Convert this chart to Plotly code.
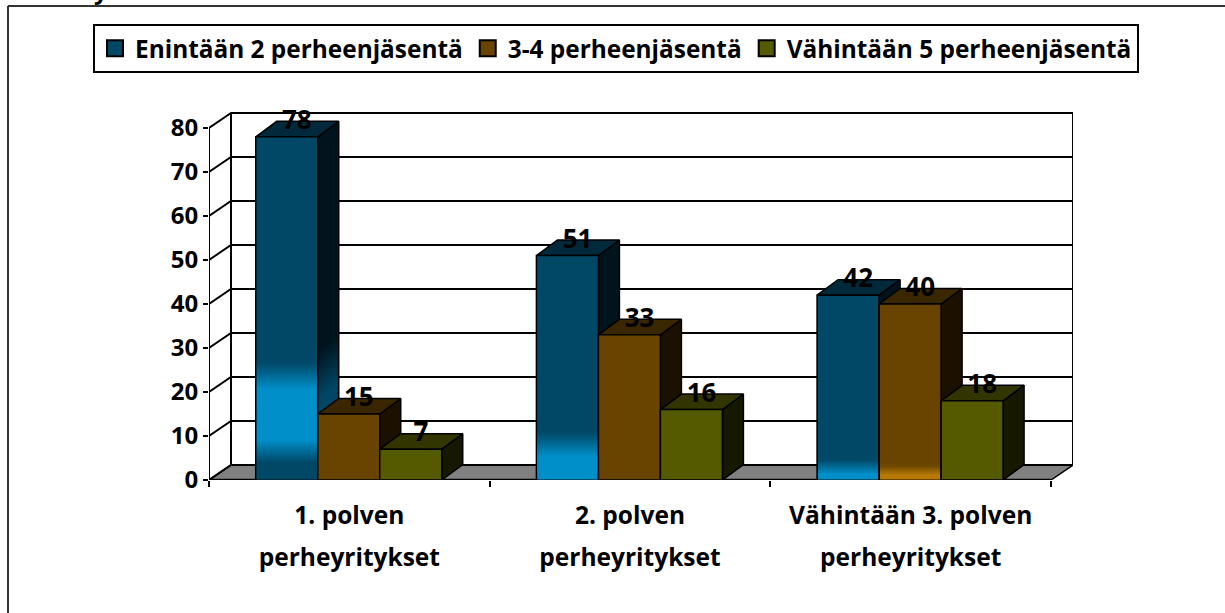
import plotly.graph_objects as go

categories = ["1. polven<br>perheyritykset", "2. polven<br>perheyritykset", "Vähintään 3. polven<br>perheyritykset"]
series_names = ["Enintään 2 perheenjäsentä", "3-4 perheenjäsentä", "Vähintään 5 perheenjäsentä"]
enintaan_2 = [78, 51, 42]
kolme_nelja = [15, 33, 40]
vahintaan_5 = [7, 16, 18]
y_ticks = [0, 10, 20, 30, 40, 50, 60, 70, 80]

FONT = "Open Sans"
series_values = [enintaan_2, kolme_nelja, vahintaan_5]
front = ["#004866", "#684400", "#555A00"]
side = ["#00141D", "#1C1100", "#171800"]
top = ["#002A3B", "#3A2700", "#333500"]

# colour stops for the front faces that have a lighter band: (series, group): [(value, colour)...]
gradients = {
    (0, 0): [(0, "#004866"), (3.9, "#004866"), (9, "#008FC8"), (20.5, "#008FC8"), (26.6, "#004866")],
    (0, 1): [(0, "#008FC8"), (5.3, "#008FC8"), (10.7, "#004866")],
    (0, 2): [(0, "#008FC8"), (1.2, "#008FC8"), (4.5, "#004866")],
    (1, 2): [(0, "#B87A00"), (1, "#B87A00"), (3.2, "#684400")],
}
# side-face gradient on the tallest bar: value range and colours
side_gradient = {(0, 0): [(15, "#004866"), (18, "#004866"), (29.5, "#00141D")]}

PX_X, PX_Y = 280.67, 4.4
PLOT_TOP = 90
XMAX = 864 / PX_X
YMAX = (480 - PLOT_TOP) / PX_Y
DX, DY = 22 / PX_X, 15 / PX_Y
BW = 62 / PX_X
BDX, BDY = 21 / PX_X, 15.5 / PX_Y


def hex2rgb(c):
    return [int(c[i:i + 2], 16) for i in (1, 3, 5)]


def mix(stops, v):
    if v <= stops[0][0]:
        return stops[0][1]
    for (a, ca), (b, cb) in zip(stops, stops[1:]):
        if v <= b:
            t = (v - a) / (b - a)
            r = [round(p + (q - p) * t) for p, q in zip(hex2rgb(ca), hex2rgb(cb))]
            return "rgb(%d,%d,%d)" % tuple(r)
    return stops[-1][1]


fig = go.Figure()


def poly(xs, ys, fill, z, line="black", w=1.5):
    fig.add_trace(go.Scatter(x=xs, y=ys, mode="lines", fill="toself", fillcolor=fill,
                             line=dict(color=line, width=w), showlegend=False,
                             hoverinfo="skip", zorder=z, cliponaxis=False))


def stroke(xs, ys, w=2, z=1):
    fig.add_trace(go.Scatter(x=xs, y=ys, mode="lines", line=dict(color="black", width=w),
                             showlegend=False, hoverinfo="skip", zorder=z, cliponaxis=False))


# floor
poly([0, DX, XMAX, XMAX - DX, 0], [0, DY, DY, 0, 0], "#808080", 0)
# walls and gridlines
for v in y_ticks:
    stroke([0, DX, XMAX], [v, v + DY, v + DY])
stroke([0, 0], [0, y_ticks[-1]])
stroke([DX, DX], [DY, y_ticks[-1] + DY])
stroke([XMAX, XMAX], [DY, y_ticks[-1] + DY])
stroke([0, XMAX - DX], [0, 0], w=2.5, z=2)

# bars, painted from the left series to the right
for s, vals in enumerate(series_values):
    base_z = 10 + s * 4
    centers = [g + 0.5 + (s - 1) * BW - 0.6 / PX_X for g in range(3)]
    for c, v, g in zip(centers, vals, range(3)):
        r = c + BW / 2
        poly([r, r + BDX, r + BDX, r, r], [0, BDY, v + BDY, v, 0], side[s], base_z)
        poly([c - BW / 2, c - BW / 2 + BDX, r + BDX, r, c - BW / 2],
             [v, v + BDY, v + BDY, v, v], top[s], base_z)
        sg = side_gradient.get((s, g))
        if sg:
            lo, hi = sg[0][0], sg[-1][0]
            n = 30
            for k in range(n):
                a = lo + (hi - lo) * k / n
                b = lo + (hi - lo) * (k + 1) / n
                fig.add_trace(go.Scatter(
                    x=[r + 0.003, r + BDX - 0.004, r + BDX - 0.004, r + 0.003],
                    y=[a, a + BDY, b + BDY + 0.2, b + 0.2], mode="lines", fill="toself",
                    fillcolor=mix(sg, (a + b) / 2), line=dict(width=0), showlegend=False,
                    hoverinfo="skip", zorder=base_z))
    fig.add_trace(go.Bar(x=centers, y=vals, width=BW, marker=dict(color=front[s], line=dict(color="black", width=1.5)),
                         showlegend=False, hoverinfo="skip", zorder=base_z + 1, cliponaxis=False))
    bx, by, bb, bc = [], [], [], []
    for g in range(3):
        stops = gradients.get((s, g))
        if not stops:
            continue
        hi = stops[-1][0]
        n = int(hi * 4)
        for k in range(n):
            a, b = hi * k / n, hi * (k + 1) / n
            bx.append(centers[g])
            bb.append(a + 0.1)
            by.append(b - a + 0.4)
            bc.append(mix(stops, (a + b) / 2))
    if bx:
        fig.add_trace(go.Bar(x=bx, y=by, base=bb, width=BW - 0.008, marker=dict(color=bc, line=dict(width=0)),
                             showlegend=False, hoverinfo="skip", zorder=base_z + 2, cliponaxis=False))

# data labels
lx, ly, lt = [], [], []
for s, vals in enumerate(series_values):
    for g, v in enumerate(vals):
        lx.append(g + 0.5 + (s - 1) * BW + 9.5 / PX_X)
        ly.append(v + 3.3)
        lt.append(str(v))
fig.add_trace(go.Scatter(x=lx, y=ly, text=lt, mode="text", textposition="middle center",
                         textfont=dict(family=FONT, size=26, color="black", weight="bold"),
                         showlegend=False, hoverinfo="skip", zorder=50, cliponaxis=False))

# legend entries
for s, name in enumerate(series_names):
    fig.add_trace(go.Scatter(x=[None], y=[None], mode="markers", name=name,
                             marker=dict(symbol="square", size=16, color=front[s], line=dict(color="black", width=2))))

px = lambda p: (p - 209) / 864
py = lambda p: (480 - p) / (480 - PLOT_TOP)
tick_text = ["<br>".join("<span style='font-size:24.5px'>%s</span>" % t for t in c.split("<br>")) for c in categories]

fig.update_layout(
    width=1225, height=613, autosize=False,
    margin=dict(l=209, r=152, t=PLOT_TOP, b=133),
    paper_bgcolor="white", plot_bgcolor="white",
    barmode="overlay",
    font=dict(family=FONT, color="black"),
    xaxis=dict(range=[0, XMAX], tickmode="array", tickvals=[0.5, 1.5, 2.5], ticktext=tick_text,
               ticks="", showgrid=False, zeroline=False, showline=False, ticklabelstandoff=11,
               tickfont=dict(family=FONT, size=32, weight="bold"), tickangle=0,
               minor=dict(tickmode="array", tickvals=[0, 1, 2, 3], ticks="outside", ticklen=6, tickwidth=1.5, tickcolor="black", showgrid=False)),
    yaxis=dict(range=[0, YMAX], tickmode="array", tickvals=y_ticks, ticks="outside", ticklen=5, tickwidth=2,
               tickcolor="black", showgrid=False, zeroline=False, showline=False,
               tickfont=dict(family=FONT, size=24, weight="bold")),
    legend=dict(orientation="h", x=px(93), y=py(24), xanchor="left", yanchor="top",
                bordercolor="black", borderwidth=2, bgcolor="white",
                font=dict(family=FONT, size=24.4, weight="bold"), itemwidth=30, tracegroupgap=0),
    shapes=[
        dict(type="line", xref="paper", yref="paper", x0=px(8), x1=px(8), y0=py(6), y1=py(640), line=dict(color="#333333", width=2)),
        dict(type="line", xref="paper", yref="paper", x0=px(8), x1=px(1240), y0=py(6), y1=py(6), line=dict(color="#333333", width=2)),
    ],
    annotations=[dict(text="y", xref="paper", yref="paper", x=px(101), y=py(-11), xanchor="center", yanchor="middle",
                      showarrow=False, font=dict(family=FONT, size=24, weight="bold"))],
)
fig.write_html("out.html", post_script="document.body.style.margin='0';", config={"displayModeBar": False})
